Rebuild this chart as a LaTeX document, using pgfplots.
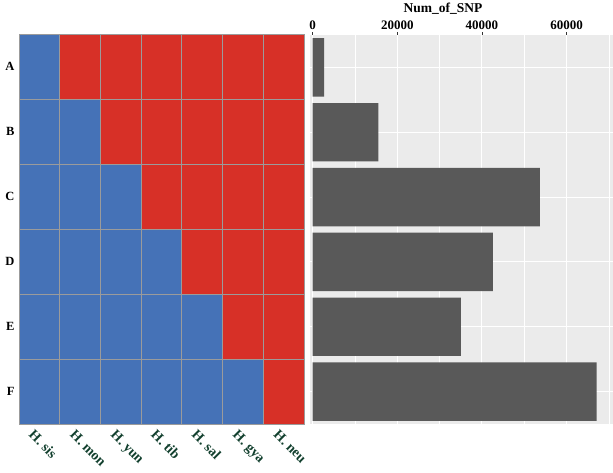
\documentclass[border=0pt]{standalone}
\usepackage{pgfplots}
\pgfplotsset{compat=1.18}
\usepackage{pgfplotstable}
\usepackage{fontspec}
\setmainfont{Liberation Serif}

\definecolor{cellblue}{RGB}{69,114,183}
\definecolor{cellred}{RGB}{215,48,39}
\definecolor{cellline}{RGB}{155,155,155}
\definecolor{panelbg}{RGB}{235,235,235}
\definecolor{bargray}{RGB}{89,89,89}
\definecolor{speciesgreen}{RGB}{18,64,46}

% genotype state of each species (x) in each SNP class (y): 0 = ancestral, 1 = derived
\pgfplotstableread{
x y c
1 1 0
2 1 1
3 1 1
4 1 1
5 1 1
6 1 1
7 1 1
1 2 0
2 2 0
3 2 1
4 2 1
5 2 1
6 2 1
7 2 1
1 3 0
2 3 0
3 3 0
4 3 1
5 3 1
6 3 1
7 3 1
1 4 0
2 4 0
3 4 0
4 4 0
5 4 1
6 4 1
7 4 1
1 5 0
2 5 0
3 5 0
4 5 0
5 5 0
6 5 1
7 5 1
1 6 0
2 6 0
3 6 0
4 6 0
5 6 0
6 6 0
7 6 1
}\statetable

% number of SNPs in each class
\pgfplotstableread{
n y
2700 1
15500 2
53700 3
42600 4
35000 5
67100 6
}\snptable

\begin{document}
\begin{tikzpicture}
\useasboundingbox (0,0) rectangle (613pt,472pt);

% pattern matrix
\begin{axis}[
  at={(19pt,48pt)}, anchor=south west,
  scale only axis, width=285pt, height=390pt,
  xmin=0.5, xmax=7.5, ymin=0.5, ymax=6.5, y dir=reverse,
  axis on top,
  colormap={states}{rgb255=(69,114,183) rgb255=(215,48,39)},
  point meta min=0, point meta max=1,
  xtick={1,...,7},
  xticklabels={H. sis,H. mon,H. yun,H. tib,H. sal,H. gya,H. neu},
  ytick={1,...,6},
  yticklabels={A,B,C,D,E,F},
  minor xtick={1.5,2.5,...,6.5},
  minor ytick={1.5,2.5,...,5.5},
  xminorgrids, yminorgrids,
  minor grid style={cellline, line width=0.9pt},
  major tick length=0pt, minor tick length=0pt,
  axis line style={cellline, line width=0.9pt},
  xticklabel style={rotate=-45, anchor=north west, text=speciesgreen,
    font=\bfseries\fontsize{14}{15}\selectfont, xshift=-3pt, yshift=-3pt},
  yticklabel style={font=\bfseries\fontsize{12.5}{13}\selectfont, xshift=-1pt},
]
\addplot[matrix plot*, mesh/cols=7, point meta=explicit]
  table[x=x, y=y, meta=c] {\statetable};
\end{axis}

% SNP counts
\begin{axis}[
  at={(310pt,48pt)}, anchor=south west,
  scale only axis, width=303pt, height=389pt,
  xmin=-640, xmax=70990, ymin=0.5, ymax=6.5, y dir=reverse,
  axis background/.style={fill=panelbg},
  axis line style={draw=none},
  xtick={0,20000,40000,60000},
  minor xtick={10000,30000,50000,70000},
  ytick={1,...,6}, yticklabels={},
  xmajorgrids, xminorgrids, ymajorgrids,
  major grid style={white, line width=1.1pt},
  minor grid style={white, line width=0.55pt},
  xtick pos=upper, xticklabel pos=upper,
  tick align=outside,
  major tick length=3pt, minor tick length=0pt,
  ytick style={draw=none},
  xtick style={black!80, line width=0.6pt},
  scaled x ticks=false,
  /pgf/number format/1000 sep={},
  /pgf/number format/assume math mode=true,
  xticklabel style={font=\bfseries\fontsize{13}{14}\selectfont, inner sep=2pt},
]
\addplot[xbar, bar width=0.9, fill=bargray, draw=none]
  table[x=n, y=y] {\snptable};
\end{axis}

\node[font=\bfseries\fontsize{13.5}{15}\selectfont] at (443pt,463pt) {Num\_of\_SNP};
\end{tikzpicture}
\end{document}
